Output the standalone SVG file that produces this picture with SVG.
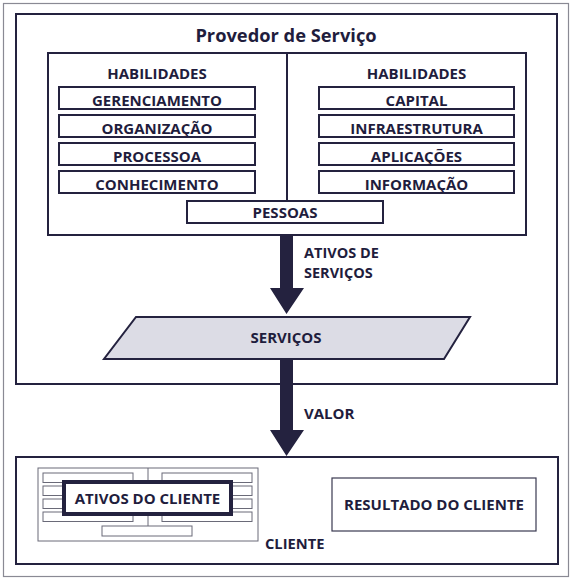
<svg xmlns="http://www.w3.org/2000/svg" width="575" height="581" viewBox="0 0 575 581">
<style>
.t{font-family:"Open Sans","Liberation Sans",sans-serif;font-weight:700;fill:#1f1d3d}
.c{text-anchor:middle}
.box{fill:#fff;stroke:#24223f;stroke-width:2}
.thin{fill:#fff;stroke:#3a3950;stroke-width:1.2}
.mini{fill:#fff;stroke:#6a6a78;stroke-width:1}
.arrow{fill:#24223f}
</style>
<rect x="3.5" y="3.5" width="565" height="573" fill="#fff" stroke="#8a8a94" stroke-width="1.2"/>
<g id="provedor">
<rect x="16" y="14" width="541" height="370" class="box"/>
<text x="286" y="42" class="t c" font-size="18.3">Provedor de Serviço</text>
</g>
<g id="habilidades">
<rect x="48" y="53" width="478" height="182" class="box"/>
<line x1="287" y1="53" x2="287" y2="201" stroke="#24223f" stroke-width="2"/>
<text x="157" y="79" class="t c" font-size="15">HABILIDADES</text>
<text x="416.5" y="79" class="t c" font-size="15">HABILIDADES</text>
</g>
<g id="gerenciamento"><rect x="59" y="87" width="196" height="22" class="box"/><text x="157" y="105.5" class="t c" font-size="15">GERENCIAMENTO</text></g>
<g id="organizacao"><rect x="59" y="115" width="196" height="22" class="box"/><text x="157" y="133.5" class="t c" font-size="15">ORGANIZAÇÃO</text></g>
<g id="processoa"><rect x="59" y="143" width="196" height="22" class="box"/><text x="157" y="161.5" class="t c" font-size="15">PROCESSOA</text></g>
<g id="conhecimento"><rect x="59" y="171" width="196" height="22" class="box"/><text x="157" y="189.5" class="t c" font-size="15">CONHECIMENTO</text></g>
<g id="capital"><rect x="319" y="87" width="195" height="22" class="box"/><text x="416.5" y="105.5" class="t c" font-size="15">CAPITAL</text></g>
<g id="infraestrutura"><rect x="319" y="115" width="195" height="22" class="box"/><text x="416.5" y="133.5" class="t c" font-size="15">INFRAESTRUTURA</text></g>
<g id="aplicacoes"><rect x="319" y="143" width="195" height="22" class="box"/><text x="416.5" y="161.5" class="t c" font-size="15">APLICAÇÕES</text></g>
<g id="informacao"><rect x="319" y="171" width="195" height="22" class="box"/><text x="416.5" y="189.5" class="t c" font-size="15">INFORMAÇÃO</text></g>
<g id="pessoas"><rect x="187" y="201" width="196" height="22" class="box"/><text x="285" y="218" class="t c" font-size="15">PESSOAS</text></g>
<g id="servicos">
<polygon points="136,317 470,317 444,359 104,359" fill="#dcdce5" stroke="#24223f" stroke-width="2"/>
<text x="286" y="343" class="t c" font-size="15">SERVIÇOS</text>
</g>
<g id="connectors">
<polygon points="280,236 293,236 293,288 304,288 286.5,314 270,288 280,288" class="arrow"/>
<text class="t" font-size="14.5"><tspan x="304" y="257.5">ATIVOS DE</tspan><tspan x="304" y="277.5">SERVIÇOS</tspan></text>
<polygon points="280,360 293,360 293,430 304,430 286.5,456 270,430 280,430" class="arrow"/>
<text x="304" y="419" class="t" font-size="15">VALOR</text>
</g>
<g id="cliente">
<rect x="16" y="457" width="542" height="107" class="box"/>
<text x="265" y="549" class="t" font-size="14.7">CLIENTE</text>
</g>
<g id="ativos-cliente">
<rect x="38" y="468" width="220" height="73" class="mini"/>
<line x1="148" y1="468" x2="148" y2="526" stroke="#6a6a78" stroke-width="1"/>
<rect x="43" y="473" width="90" height="9.5" class="mini"/>
<rect x="43" y="486" width="90" height="9.5" class="mini"/>
<rect x="43" y="499" width="90" height="9.5" class="mini"/>
<rect x="43" y="512" width="90" height="9.5" class="mini"/>
<rect x="162" y="473" width="90" height="9.5" class="mini"/>
<rect x="162" y="486" width="90" height="9.5" class="mini"/>
<rect x="162" y="499" width="90" height="9.5" class="mini"/>
<rect x="162" y="512" width="90" height="9.5" class="mini"/>
<rect x="102" y="526" width="90" height="10" class="mini"/>
<rect x="64" y="482" width="167" height="32" fill="#fff" stroke="#24223f" stroke-width="4"/>
<text x="147.5" y="504" class="t c" font-size="15">ATIVOS DO CLIENTE</text>
</g>
<g id="resultado">
<rect x="332" y="478" width="204" height="53" class="thin"/>
<text x="434" y="510" class="t c" font-size="15">RESULTADO DO CLIENTE</text>
</g>
</svg>
